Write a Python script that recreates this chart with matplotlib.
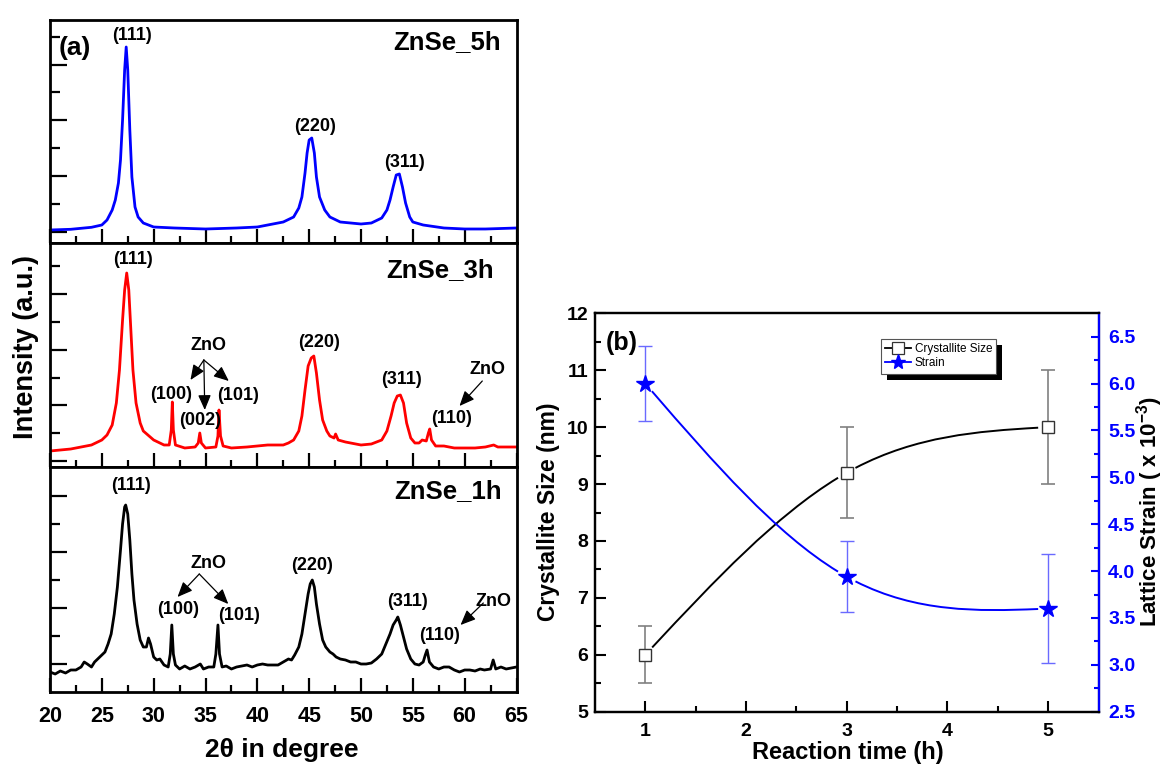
import numpy as np
import matplotlib
matplotlib.use("Agg")
import matplotlib.pyplot as plt
from matplotlib.path import Path
from matplotlib.patches import PathPatch, Rectangle
from matplotlib.lines import Line2D
from matplotlib.transforms import IdentityTransform

plt.rcParams['font.family'] = ['Liberation Sans', 'DejaVu Sans']
plt.rcParams['font.weight'] = 'bold'
plt.rcParams['mathtext.fontset'] = 'custom'
plt.rcParams['mathtext.rm'] = 'Liberation Sans:bold'
plt.rcParams['mathtext.default'] = 'rm'

# ---- (a) XRD patterns, 2theta (deg) vs intensity (a.u.) ----
tt_5h = [20, 22, 24, 25, 25.5, 26, 26.3, 26.6, 26.8, 27.0,
         27.2, 27.35, 27.5, 27.7, 27.9, 28.2, 28.5, 29, 30, 32,
         35, 38, 40, 41, 42.5, 43.5, 44, 44.3, 44.6, 44.8,
         45.0, 45.25, 45.5, 45.7, 46.0, 46.5, 47, 48, 49, 50,
         51, 52, 52.5, 52.8, 53.1, 53.4, 53.7, 54.0, 54.3, 54.7,
         55, 56, 58, 60, 62, 65]
int_5h = [13, 13.7, 15.7, 18, 23, 33, 43, 60, 83, 123,
          173, 196, 173, 113, 66, 36, 26, 20, 16, 15,
          14, 15, 16, 18, 21, 26, 35, 46, 70, 90,
          103, 105, 90, 66, 46, 33, 26, 21, 20, 19,
          20, 25, 33, 43, 56, 68, 69, 56, 40, 26,
          21, 18, 15, 14, 14, 15]

tt_3h = [20, 21, 22, 23, 24, 25, 25.5, 26, 26.4, 26.7,
         27.0, 27.2, 27.4, 27.6, 27.8, 28.0, 28.3, 28.7, 29, 30,
         31, 31.5, 31.7, 31.8, 31.9, 32.1, 33, 34, 34.3, 34.45,
         34.6, 35, 36, 36.2, 36.3, 36.45, 36.7, 37.5, 39, 40,
         41, 42.5, 43, 43.5, 44, 44.3, 44.6, 44.9, 45.2, 45.45,
         45.7, 46.0, 46.3, 46.7, 47.0, 47.4, 47.55, 47.8, 48.5, 49,
         50, 51, 52, 52.5, 52.9, 53.2, 53.5, 53.8, 54.1, 54.4,
         54.8, 55.2, 55.6, 55.9, 56.3, 56.5, 56.63, 56.8, 57.2, 58,
         59, 60, 61, 62, 62.8, 63.2, 65]
int_3h = [16, 17, 18, 20, 22, 27, 32, 42, 64, 97,
          147, 177, 194, 177, 137, 97, 64, 44, 36, 27,
          22, 22, 37, 65, 37, 22, 19, 20, 24, 34,
          24, 19, 20, 31, 57, 31, 21, 19, 20, 21,
          22, 22, 24, 27, 36, 51, 77, 101, 109, 111,
          94, 67, 47, 36, 31, 29, 33, 27, 25, 24,
          22, 23, 27, 36, 51, 64, 71, 72, 64, 44,
          29, 24, 24, 27, 26, 34, 38, 27, 21, 21,
          19, 19, 19, 20, 22, 20, 20]

tt_1h = [20, 20.5, 21, 21.5, 22, 22.5, 23, 23.3, 23.6, 24,
         24.3, 24.6, 25, 25.3, 25.6, 25.9, 26.2, 26.5, 26.8, 27.0,
         27.2, 27.3, 27.5, 27.7, 27.9, 28.1, 28.4, 28.7, 29.0, 29.3,
         29.5, 29.7, 30.0, 30.3, 30.6, 31.0, 31.4, 31.6, 31.75, 31.9,
         32.1, 32.5, 33, 33.5, 34, 34.5, 34.8, 35.3, 35.8, 36.0,
         36.2, 36.35, 36.6, 37, 37.5, 38, 38.5, 39, 39.5, 40,
         40.5, 41, 42, 42.5, 43, 43.3, 43.6, 44.0, 44.3, 44.6,
         44.9, 45.1, 45.3, 45.5, 45.7, 46.0, 46.3, 46.6, 47.0, 47.3,
         47.6, 48.0, 48.5, 49, 49.5, 50, 50.5, 51, 51.5, 52,
         52.4, 52.8, 53.1, 53.4, 53.55, 53.8, 54.1, 54.4, 54.8, 55.2,
         55.6, 56.0, 56.2, 56.37, 56.6, 57, 57.5, 58, 58.5, 59,
         59.5, 60, 60.5, 61, 61.5, 61.9, 62.5, 62.75, 63.0, 63.5,
         64, 65]
int_1h = [20, 18, 21, 19, 22, 22, 25, 30, 28, 25,
          30, 33, 37, 40, 48, 58, 78, 105, 142, 168,
          185, 187, 178, 152, 118, 92, 68, 52, 45, 45,
          54, 48, 35, 32, 33, 27, 25, 38, 67, 38,
          27, 23, 26, 23, 25, 28, 23, 25, 25, 38,
          67, 38, 25, 26, 23, 25, 26, 27, 25, 27,
          28, 27, 27, 30, 33, 32, 37, 45, 58, 78,
          98, 108, 112, 105, 88, 68, 52, 45, 40, 38,
          35, 33, 32, 30, 30, 28, 28, 29, 33, 38,
          48, 58, 67, 72, 75, 67, 55, 43, 33, 28,
          27, 30, 37, 42, 30, 25, 23, 25, 25, 22,
          20, 22, 22, 21, 23, 22, 23, 32, 23, 25,
          23, 25]

# peak labels (text, 2theta, intensity) and ZnO pointer arrows (from, to)
labels_5h = [("(111)", 27.9, 207), ("(220)", 45.6, 116), ("(311)", 54.2, 80)]
arrows_5h = []
labels_3h = [("(111)", 28.0, 207), ("(100)", 31.7, 72), ("(002)", 34.5, 46),
             ("(101)", 38.1, 71), ("(220)", 46.0, 124), ("(311)", 53.9, 87),
             ("(110)", 58.7, 48), ("ZnO", 35.3, 121), ("ZnO", 62.2, 97)]
arrows_3h = [((34.84, 107), (33.55, 87)), ((34.84, 107), (34.93, 57)),
             ((34.84, 107), (37.25, 86)), ((61.7, 86), (59.5, 61))]
labels_1h = [("(111)", 27.8, 206), ("(100)", 32.4, 82), ("(101)", 38.2, 77),
             ("(220)", 45.3, 127), ("(311)", 54.5, 90), ("(110)", 57.6, 57),
             ("ZnO", 35.3, 128), ("ZnO", 62.8, 90)]
arrows_1h = [((34.4, 118), (32.3, 95)), ((34.4, 118), (37.2, 88)),
             ((61.8, 89), (59.6, 67))]

# ---- (b) crystallite size and lattice strain vs reaction time ----
hours = [1, 3, 5]
size_nm = [6.0, 9.2, 10.0]
size_err = [0.5, 0.8, 1.0]
strain = [6.0, 3.94, 3.6]
strain_err = [0.4, 0.38, 0.58]

W, H = 1167, 767
fig = plt.figure(figsize=(W / 100, H / 100), dpi=100)


def px_axes(left, top, right, bottom):
    return fig.add_axes([left / W, 1 - bottom / H, (right - left) / W, (bottom - top) / H])


panels = [
    (tt_5h, int_5h, 'blue', 20, 243, "ZnSe_5h", 63.5, 201, labels_5h, arrows_5h),
    (tt_3h, int_3h, 'red', 243, 467, "ZnSe_3h", 62.8, 197, labels_3h, arrows_3h),
    (tt_1h, int_1h, 'black', 467, 692, "ZnSe_1h", 63.6, 201, labels_1h, arrows_1h),
]

for k, (tt, inten, color, top, bot, name, nx, ny, labels, arrows) in enumerate(panels):
    ax = px_axes(50, top, 516.5, bot)
    ax.plot(tt, inten, color=color, lw=2.0)
    ax.set_xlim(20, 65)
    ax.set_ylim(0, bot - top)
    for sp in ax.spines.values():
        sp.set_linewidth(2.0)
    ax.set_xticks(np.arange(20, 66, 5))
    ax.set_xticks(np.arange(22.5, 65, 5), minor=True)
    ref = [11, 5.7, 28.3][k]
    ticks = np.arange(ref, bot - top - 10, 27.9)
    ax.set_yticks(ticks[::2])
    ax.set_yticks(ticks[1::2], minor=True)
    ax.tick_params(axis='x', which='major', direction='in', length=10, width=1.6, top=False)
    ax.tick_params(axis='x', which='minor', direction='in', length=5, width=1.6, top=False)
    ax.tick_params(axis='y', which='major', direction='in', length=12, width=1.6, right=False)
    ax.tick_params(axis='y', which='minor', direction='in', length=7, width=1.6, right=False)
    ax.tick_params(axis='y', labelleft=False)
    if k < 2:
        ax.tick_params(axis='x', labelbottom=False)
    else:
        ax.tick_params(axis='x', labelsize=15.5, pad=10)
        for t in ax.get_xticklabels():
            t.set_fontweight('bold')
    ax.text(nx, ny, name, ha='right', va='center', fontsize=18.5, fontweight='bold')
    for txt, x, y in labels:
        ax.text(x, y, txt, ha='center', va='center', fontsize=13, fontweight='bold')
    for (x0, y0), (x1, y1) in arrows:
        ax.annotate('', xy=(x1, y1), xytext=(x0, y0),
                    arrowprops=dict(arrowstyle='-|>,head_length=0.7,head_width=0.3',
                                    color='black', lw=0.9, shrinkA=0, shrinkB=0,
                                    mutation_scale=13))
    if k == 0:
        ax.text(22.4, 195, "(a)", ha='center', va='center', fontsize=19, fontweight='bold')

fig.text(26 / W, 1 - 347 / H, "Intensity (a.u.)", rotation=90, ha='center', va='center',
         fontsize=19.5, fontweight='bold')
fig.text(282 / W, 1 - 750 / H, "2\u03b8 in degree", ha='center', va='center',
         fontsize=19, fontweight='bold')


def natural_spline(x, y):
    n = len(x)
    h = np.diff(x)
    A = np.zeros((n, n))
    rhs = np.zeros(n)
    A[0, 0] = A[-1, -1] = 1
    for i in range(1, n - 1):
        A[i, i - 1] = h[i - 1]
        A[i, i] = 2 * (h[i - 1] + h[i])
        A[i, i + 1] = h[i]
        rhs[i] = 6 * ((y[i + 1] - y[i]) / h[i] - (y[i] - y[i - 1]) / h[i - 1])
    return np.linalg.solve(A, rhs)


def seg_eval(x, y, M, i, t):
    # value and slope of spline piece i at abscissa t
    h = x[i + 1] - x[i]
    a, b = x[i + 1] - t, t - x[i]
    c0 = y[i] / h - M[i] * h / 6
    c1 = y[i + 1] / h - M[i + 1] * h / 6
    s = M[i] * a ** 3 / (6 * h) + M[i + 1] * b ** 3 / (6 * h) + c0 * a + c1 * b
    ds = -M[i] * a ** 2 / (2 * h) + M[i + 1] * b ** 2 / (2 * h) - c0 + c1
    return s, ds


def spline_path(ax, x, y, gap_px=10):
    # smooth connector drawn as cubic Bezier pieces, cut short near each marker
    x = np.asarray(x, float)
    y = np.asarray(y, float)
    M = natural_spline(x, y)
    sx, sy = ax.transData.transform((1, 1)) - ax.transData.transform((0, 0))
    verts, codes = [], []
    for i in range(len(x) - 1):
        ends = []
        for xe, sgn in ((x[i], 1), (x[i + 1], -1)):
            _, d = seg_eval(x, y, M, i, xe)
            ends.append(xe + sgn * gap_px / np.hypot(sx, d * sy))
        xa, xb = ends
        ya, da = seg_eval(x, y, M, i, xa)
        yb, db = seg_eval(x, y, M, i, xb)
        d = xb - xa
        verts += [(xa, ya), (xa + d / 3, ya + da * d / 3), (xb - d / 3, yb - db * d / 3), (xb, yb)]
        codes += [Path.MOVETO, Path.CURVE4, Path.CURVE4, Path.CURVE4]
    return Path(verts, codes)


axb = px_axes(595, 313.3, 1098.5, 711.7)
axs = axb.twinx()
axb.set_xlim(0.5, 5.5)
axb.set_ylim(5, 12)
axs.set_ylim(2.5, 6.75)

axb.errorbar(hours, size_nm, yerr=size_err, fmt='none', ecolor='#808080',
             elinewidth=1.2, capsize=5, capthick=1.2)
axb.add_patch(PathPatch(spline_path(axb, hours, size_nm), facecolor='none',
                        edgecolor='black', lw=1.4))
axb.plot(hours, size_nm, 's', ms=8, mfc='white', mec='#333333', mew=1.0, zorder=4)

axs.errorbar(hours, strain, yerr=strain_err, fmt='none', ecolor='#6a6aff',
             elinewidth=1.0, capsize=5, capthick=1.0)
axs.add_patch(PathPatch(spline_path(axs, hours, strain), facecolor='none',
                        edgecolor='blue', lw=1.4))
axs.plot(hours, strain, '*', ms=13, color='blue', zorder=4)

for sp in axb.spines.values():
    sp.set_linewidth(1.6)
for side in ('left', 'top', 'bottom', 'right'):
    axs.spines[side].set_linewidth(1.6)
axs.spines['right'].set_color('blue')

axb.set_xticks([1, 2, 3, 4, 5])
axb.set_xticks([1.5, 2.5, 3.5, 4.5], minor=True)
axb.set_yticks(np.arange(5, 12.1, 1))
axb.set_yticks(np.arange(5.5, 12, 1), minor=True)
axs.set_yticks(np.arange(2.5, 6.6, 0.5))
axs.set_yticks(np.arange(2.75, 6.75, 0.5), minor=True)
axs.yaxis.set_major_formatter(matplotlib.ticker.FormatStrFormatter('%.1f'))

axb.tick_params(axis='both', which='major', direction='in', length=8, width=1.5,
                labelsize=14, top=False, right=False)
axb.tick_params(axis='both', which='minor', direction='in', length=4.5, width=1.5,
                top=False, right=False)
axb.tick_params(axis='x', pad=8)
axb.tick_params(axis='y', pad=5)
axs.tick_params(axis='y', which='major', direction='in', length=6, width=1.5,
                color='blue', labelcolor='blue', labelsize=14, pad=7)
axs.tick_params(axis='y', which='minor', direction='in', length=3.5, width=1.5, color='blue')
for t in axb.get_xticklabels() + axb.get_yticklabels() + axs.get_yticklabels():
    t.set_fontweight('bold')

axb.text(0.77, 11.47, "(b)", ha='center', va='center', fontsize=18, fontweight='bold')

fig.text(548 / W, 1 - 512 / H, "Crystallite Size (nm)", rotation=90, ha='center',
         va='center', fontsize=16.5, fontweight='bold')
fig.text(1150 / W, 1 - 512 / H, "Lattice Strain ( x 10$^{-3}$)", rotation=90, ha='center',
         va='center', fontsize=16, fontweight='bold')
fig.text(848 / W, 1 - 753 / H, "Reaction time (h)", ha='center', va='center',
         fontsize=17, fontweight='bold')

h_size = Line2D([], [], color='black', lw=1.3, marker='s', ms=8, mfc='white',
                mec='#333333', mew=0.9)
h_strain = Line2D([], [], color='blue', lw=1.3, marker='*', ms=11)
leg = axs.legend([h_size, h_strain], ["Crystallite Size", "Strain"],
                 loc='upper left', bbox_to_anchor=((881 - 595) / 503.5, 1 - (339 - 313.3) / 398.4),
                 borderaxespad=0, frameon=True, fancybox=False, framealpha=1,
                 edgecolor='#555555', prop={'size': 8.5, 'weight': 'normal'},
                 handlelength=2.2, handletextpad=0.3, borderpad=0.35, labelspacing=0.2)
leg.get_frame().set_linewidth(0.8)

fig.canvas.draw()
bb = leg.get_window_extent()
shadow = Rectangle((bb.x0 + 6, bb.y0 - 6), bb.width, bb.height, transform=IdentityTransform(),
                   facecolor='black', edgecolor='none', zorder=leg.get_zorder() - 0.1, clip_on=False)
axs.add_artist(shadow)

fig.savefig("out.png", dpi=100)
